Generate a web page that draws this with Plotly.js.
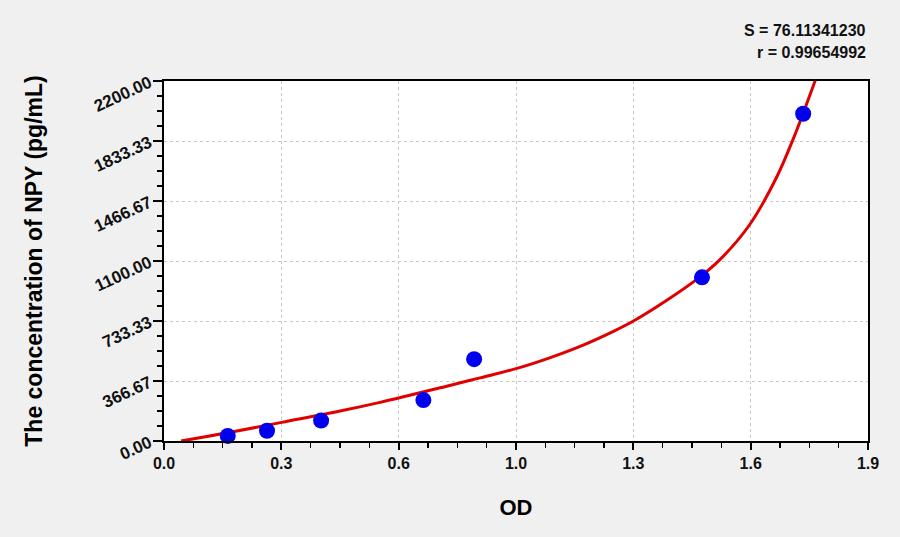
<!DOCTYPE html>
<html>
<head>
<meta charset="utf-8">
<script src="https://cdn.plot.ly/plotly-3.0.1.min.js"></script>
<style>
  body { margin: 0; background: #f0f0f0; }
  #chart { width: 900px; height: 537px; }
</style>
</head>
<body>
<div id="chart"></div>
<script>
// standards: OD vs concentration
var odValues = [0.172, 0.278, 0.424, 0.700, 0.837, 1.452, 1.725];
var concValues = [31.25, 62.5, 125, 250, 500, 1000, 2000];

// fitted curve
var fitOD = [0.046, 0.172, 0.318, 0.475, 0.583, 0.763, 0.853, 0.950, 1.037, 1.123, 1.213, 1.267, 1.357, 1.445, 1.499, 1.580, 1.654, 1.698, 1.725, 1.763];
var fitConc = [0, 50, 114, 183, 236, 335, 386, 442, 505, 578, 670, 733, 860, 1000, 1105, 1320, 1615, 1845, 2003, 2237];

var xTickVals = [0, 1.9/6, 1.9/3, 0.95, 1.9*2/3, 1.9*5/6, 1.9];
var xTickText = ["0.0", "0.3", "0.6", "1.0", "1.3", "1.6", "1.9"];

var fit = {
  x: fitOD,
  y: fitConc,
  type: "scatter",
  mode: "lines",
  line: {color: "#e00000", width: 3, shape: "spline", smoothing: 1},
  cliponaxis: false,
  hoverinfo: "skip"
};
var standards = {
  x: odValues,
  y: concValues,
  type: "scatter",
  mode: "markers",
  marker: {color: "#0000ee", size: 16, line: {width: 0}},
  cliponaxis: false
};

var fontName = "Liberation Sans, Arial, sans-serif";
var tickFont = {family: fontName, size: 17, color: "#111", weight: "bold"};

var layout = {
  width: 900, height: 537,
  paper_bgcolor: "#f0f0f0",
  plot_bgcolor: "#ffffff",
  showlegend: false,
  margin: {l: 164, r: 32, t: 81, b: 96},
  xaxis: {
    range: [0, 1.9],
    tickmode: "array", tickvals: xTickVals, ticktext: xTickText,
    ticks: "outside", ticklen: 7, tickwidth: 2, tickcolor: "#000",
    minor: {tickmode: "linear", tick0: 0, dtick: 1.9/24, ticks: "outside", ticklen: 5, tickwidth: 1.5, tickcolor: "#000", showgrid: false},
    showline: true, linecolor: "#000", linewidth: 2, mirror: true,
    showgrid: true, gridcolor: "#c8c8c8", griddash: "dot", gridwidth: 1,
    zeroline: false,
    tickfont: {family: fontName, size: 16, color: "#111", weight: "bold"},
    title: {text: "OD", font: {family: fontName, size: 22, color: "#000", weight: "bold"}, standoff: 28}
  },
  yaxis: {
    range: [0, 2200],
    tickmode: "linear", tick0: 0, dtick: 2200/6, tickformat: ".2f",
    tickangle: -25,
    ticks: "outside", ticklen: 9, tickwidth: 2, tickcolor: "#000",
    minor: {tickmode: "linear", tick0: 0, dtick: 2200/24, ticks: "outside", ticklen: 5, tickwidth: 1.5, tickcolor: "#000", showgrid: false},
    showline: true, linecolor: "#000", linewidth: 2, mirror: true,
    showgrid: true, gridcolor: "#c8c8c8", griddash: "dot", gridwidth: 1,
    zeroline: false,
    tickfont: tickFont,
    title: {text: "The concentration of NPY (pg/mL)", font: {family: fontName, size: 23, color: "#000", weight: "bold"}, standoff: 42}
  },
  annotations: [
    {text: "S = 76.11341230", xref: "paper", yref: "paper", x: 1, y: 1, xanchor: "right", yanchor: "middle", yshift: 51, showarrow: false,
     font: {family: fontName, size: 16, color: "#111", weight: "bold"}},
    {text: "r = 0.99654992", xref: "paper", yref: "paper", x: 1, y: 1, xanchor: "right", yanchor: "middle", yshift: 29, showarrow: false,
     font: {family: fontName, size: 16, color: "#111", weight: "bold"}}
  ]
};

Plotly.newPlot("chart", [fit, standards], layout, {displayModeBar: false, staticPlot: true});
</script>
</body>
</html>
